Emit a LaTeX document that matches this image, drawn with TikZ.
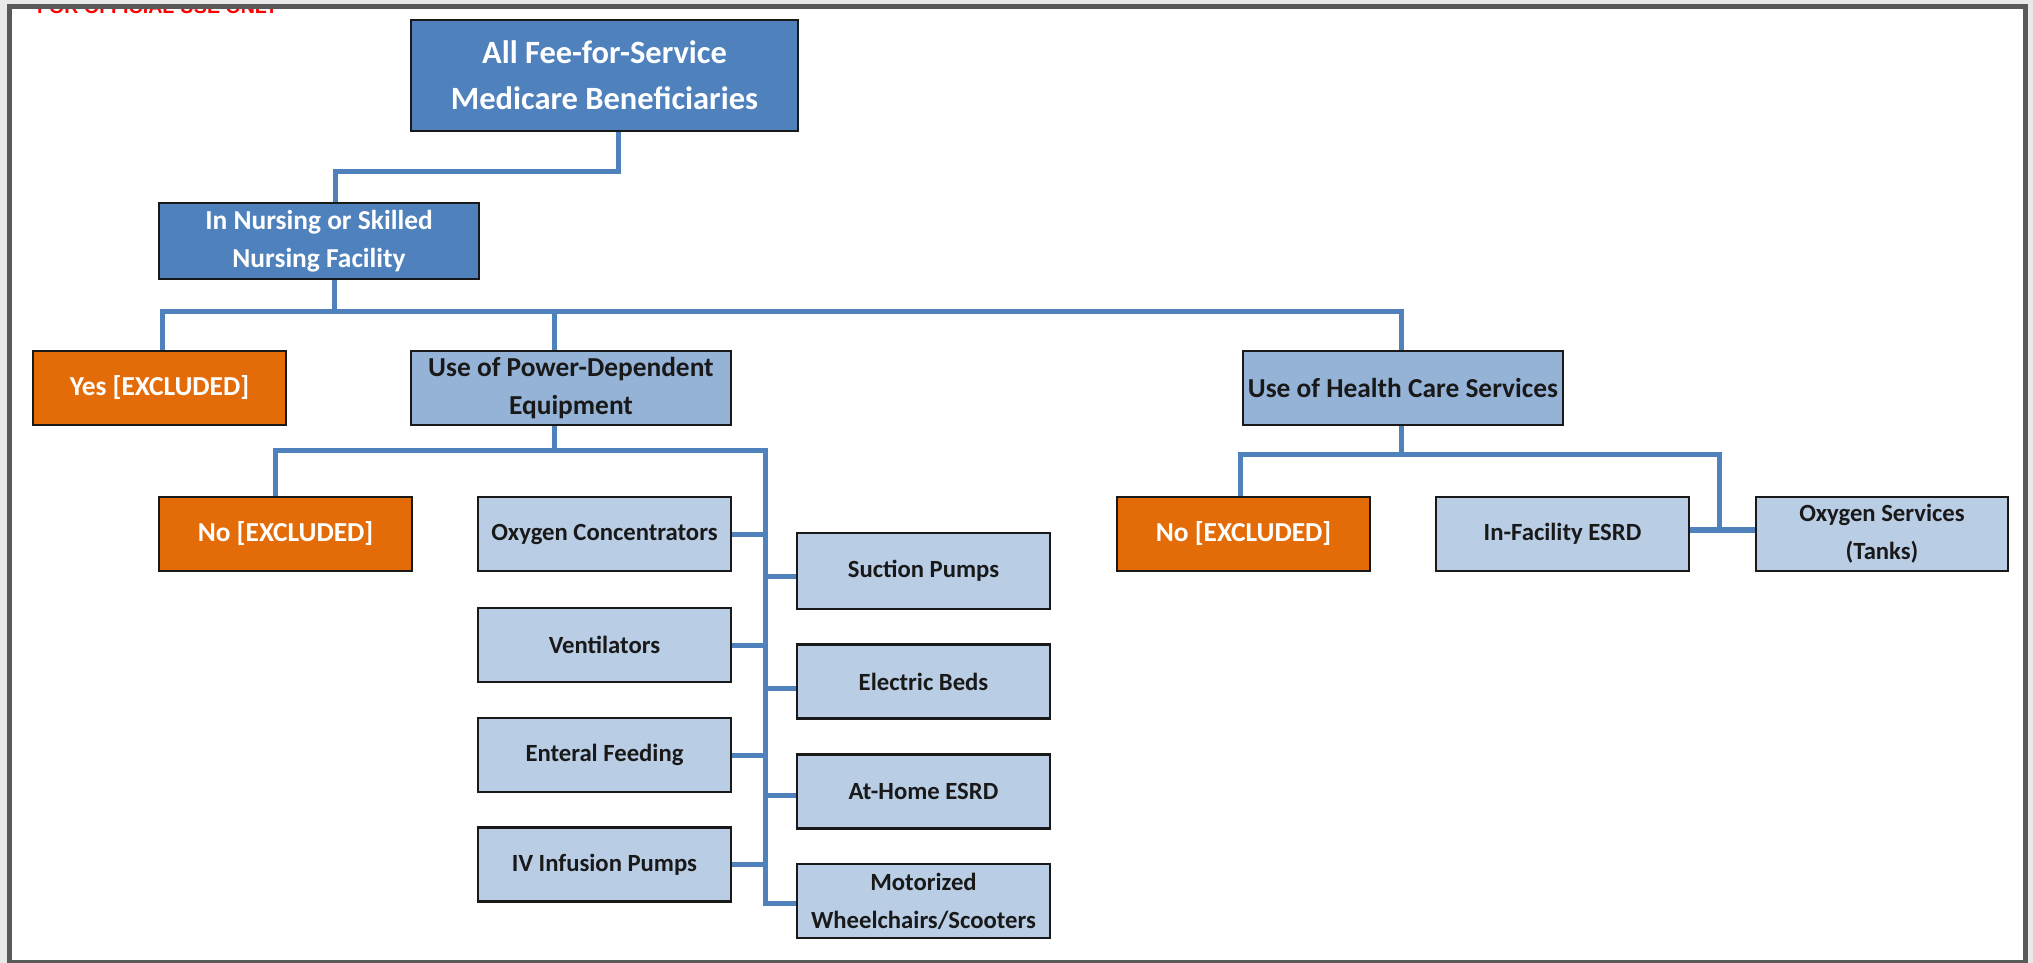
\documentclass[tikz,border=0pt]{standalone}
\usepackage{fontspec}
\setmainfont{Carlito}
\newfontfamily\arialfont{Liberation Sans}
\definecolor{dkblue}{HTML}{4F81BD}
\definecolor{midblue}{HTML}{95B3D7}
\definecolor{ltblue}{HTML}{B9CDE5}
\definecolor{orng}{HTML}{E36C09}
\definecolor{lnblue}{HTML}{4F81BD}
\definecolor{frameg}{HTML}{595959}
\definecolor{bgg}{HTML}{E9E9E9}
\tikzset{
  box/.style={draw=black!90, line width=2.5pt, inner sep=0pt, align=center,
    font=\bfseries\fontsize{24.7}{38}\selectfont, minimum height=74pt, minimum width=253pt},
  lvl/.style={font=\bfseries\fontsize{27.4}{38}\selectfont},
  dark/.style={box, lvl, fill=dkblue, text=white},
  mid/.style={box, lvl, fill=midblue, text=black!90, minimum width=320pt},
  leaf/.style={box, fill=ltblue, text=black!90},
  excl/.style={box, lvl, fill=orng, text=white},
  conn/.style={draw=lnblue, line width=5pt},
}
\begin{document}
\begin{tikzpicture}[x=1pt,y=-1pt]
\useasboundingbox (0,0) rectangle (2033,963);
\fill[bgg] (0,0) rectangle (2033,963);
\fill[white] (9.5,6.5) rectangle (2025,962.5);
\begin{scope}
  \clip (12,9) rectangle (2023,960);
  \node[anchor=base west, inner sep=0pt, text=red, font=\arialfont\bfseries\fontsize{19.6}{22}\selectfont] (ofc) at (37,14) {FOR OFFICIAL USE ONLY};
\end{scope}
\draw[frameg, line width=5pt] (9.5,6.5) rectangle (2025,962.5);

% nodes
\node[dark, minimum width=387pt, minimum height=111pt, font=\bfseries\fontsize{32.5}{46}\selectfont] (top) at (604.5,75.5) {All Fee-for-Service\\Medicare Beneficiaries};
\node[dark, minimum width=320pt, minimum height=76pt] (nurs) at (319,241) {In Nursing or Skilled\\Nursing Facility};
\node[excl] (yes) at (159.5,388) {Yes [EXCLUDED]};
\node[mid] (power) at (571,388) {Use of Power-Dependent\\Equipment};
\node[mid] (health) at (1403,388) {Use of Health Care Services};
\node[excl] (noL) at (285.5,534) {No [EXCLUDED]};
\node[leaf] (oxc) at (604.5,534) {Oxygen Concentrators};
\node[leaf] (vent) at (604.5,645) {Ventilators};
\node[leaf] (ent) at (604.5,755) {Enteral Feeding};
\node[leaf] (iv) at (604.5,864.5) {IV Infusion Pumps};
\node[leaf, minimum height=76pt] (suct) at (923.5,571) {Suction Pumps};
\node[leaf] (elec) at (923.5,681.5) {Electric Beds};
\node[leaf] (home) at (923.5,791.5) {At-Home ESRD};
\node[leaf] (motor) at (923.5,901) {Motorized\\Wheelchairs/Scooters};
\node[excl] (noR) at (1243.5,534) {No [EXCLUDED]};
\node[leaf] (infac) at (1562.5,534) {In-Facility ESRD};
\node[leaf, minimum width=252pt] (oxs) at (1882,534) {Oxygen Services\\(Tanks)};

% junction coordinates
\coordinate (j1) at (618,171);
\coordinate (j1b) at (335,171);
\coordinate (n2) at (334,311);
\coordinate (y2) at (162,311);
\coordinate (p2) at (554,311);
\coordinate (p3) at (554,450);
\coordinate (l3) at (275,450);
\coordinate (t3) at (765,450);
\coordinate (hc) at (1401,454);
\coordinate (hl) at (1240,454);
\coordinate (hr) at (1719,454);

% connectors
\draw[conn] (top.south -| j1) -- (j1) -- (j1b) -- (nurs.north -| j1b);
\draw[conn] (nurs.south -| n2) -- (n2);
\draw[conn] (yes.north -| y2) -- (y2) -- (n2 -| hc) -- (health.north -| hc);
\draw[conn] (p2) -- (power.north -| p2);
\draw[conn] (power.south -| p3) -- (p3);
\draw[conn] (noL.north -| l3) -- (l3) -- (t3) |- ([yshift=-2pt]motor.west);
\draw[conn] (oxc.east) -- (oxc.east -| t3);
\draw[conn] (vent.east) -- (vent.east -| t3);
\draw[conn] (ent.east) -- (ent.east -| t3);
\draw[conn] (iv.east) -- (iv.east -| t3);
\draw[conn] ([yshift=-5pt]suct.west -| t3) -- ([yshift=-5pt]suct.west);
\draw[conn] ([yshift=-7pt]elec.west -| t3) -- ([yshift=-7pt]elec.west);
\draw[conn] ([yshift=-4pt]home.west -| t3) -- ([yshift=-4pt]home.west);
\draw[conn] (health.south -| hc) -- (hc);
\draw[conn] (noR.north -| hl) -- (hl) -- (hr) -- ([yshift=4pt]infac.east -| hr);
\draw[conn, line width=6pt] ([yshift=4pt]infac.east) -- ([yshift=4pt]oxs.west);
\end{tikzpicture}
\end{document}
